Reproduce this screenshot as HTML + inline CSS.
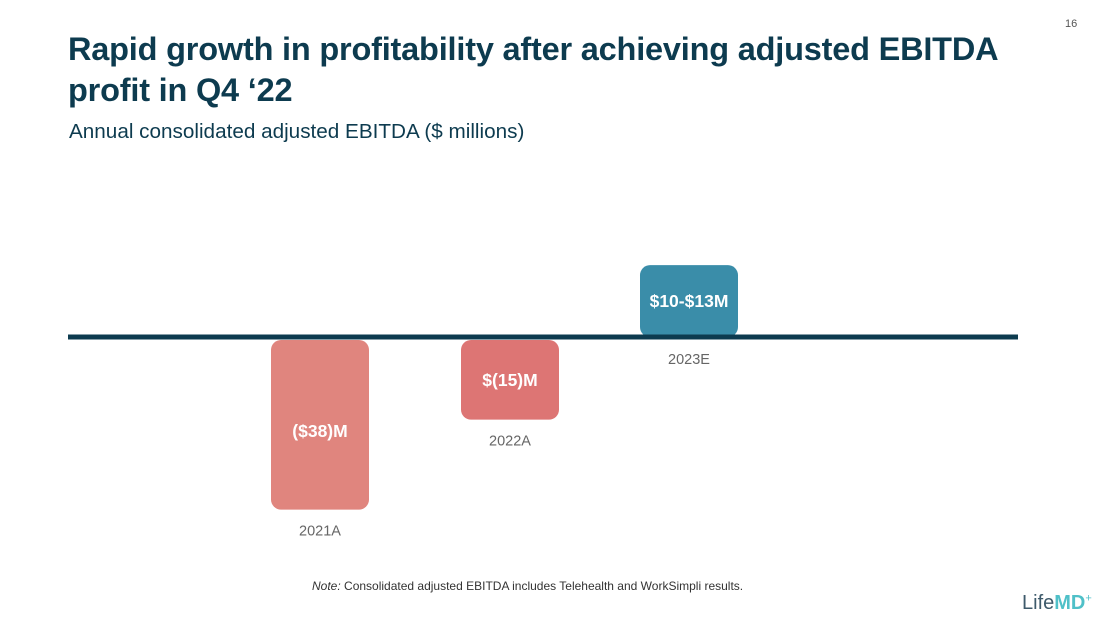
<!DOCTYPE html>
<html><head><meta charset="utf-8"><style>
body{margin:0;width:1100px;height:619px;background:#fff;overflow:hidden;position:relative;font-family:"Liberation Sans",sans-serif}
.t{position:absolute;left:68px;top:29px;font-size:32.5px;font-weight:bold;color:#0d3b4f;line-height:41px;letter-spacing:-0.2px;white-space:nowrap}
.s{position:absolute;left:69px;top:120px;font-size:20.7px;color:#0d3b4f}
.pg{position:absolute;left:1065px;top:18px;font-size:11px;color:#555}
.note{position:absolute;left:312px;top:579px;font-size:12px;color:#333}
.logo{position:absolute;left:1022px;top:592px;font-size:20px;color:#3e5a6b}
</style></head><body>
<div class="pg">16</div>
<div class="t">Rapid growth in profitability after achieving adjusted EBITDA<br>profit in Q4 ‘22</div>
<div class="s">Annual consolidated adjusted EBITDA ($ millions)</div>
<svg id="c" width="1100" height="619" style="position:absolute;left:0;top:0"></svg>
<div class="note"><i>Note:</i> Consolidated adjusted EBITDA includes Telehealth and WorkSimpli results.</div>
<div class="logo"><span style="font-weight:300">Life</span><span style="color:#4fc0c8;font-weight:bold">MD</span><sup style="color:#4fc0c8;font-size:11px">+</sup></div>
<script>
const categories=["2021A","2022A","2023E"];
const values=[-38,-15,13];
const valueLabels=["($38)M","$(15)M","$10-$13M"];
const colors=["#e0857e","#dd7574","#3a8da9"];
const NS="http://www.w3.org/2000/svg";
const svg=document.getElementById('c');
const baseY=337;
function xPos(i){return 271+i*(i==1?190:184.5);}
function hScale(v){return 21+3.91*Math.abs(v);}
function mk(t,a){const e=document.createElementNS(NS,t);for(const k in a)e.setAttribute(k,a[k]);svg.appendChild(e);return e;}
values.forEach((v,i)=>{
  const x=xPos(i),h=hScale(v),w=98;
  const y=v<0?baseY+3:baseY-h;
  const r=mk('rect',{x:x,y:y,width:w,height:h,rx:10,fill:colors[i]});
  
  
  const cy=y+h/2+6;
  const tl=mk('text',{x:x+w/2,y:v<0&&i==0?y+h/2+12:cy,'text-anchor':'middle',fill:'#fff','font-size':17.5,'font-weight':'bold','font-family':'Liberation Sans, sans-serif'});
  tl.textContent=valueLabels[i];
  
  
  const ly=v<0?y+h+26:baseY+27;
  const cl=mk('text',{x:x+w/2,y:ly,'text-anchor':'middle',fill:'#666','font-size':14.5,'font-family':'Liberation Sans, sans-serif'});
  cl.textContent=categories[i];
  
  
});
const ax=mk('rect',{x:68,y:baseY-2.5,width:950,height:5,fill:'#0d3b4f'});


</script>
</body></html>
